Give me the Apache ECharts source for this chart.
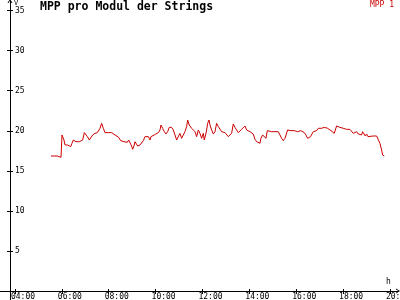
<!DOCTYPE html>
<html>
<head>
<meta charset="utf-8">
<script src="https://cdn.jsdelivr.net/npm/echarts@6/dist/echarts.min.js"></script>
<style>html,body{margin:0;padding:0;background:#fff}#c{width:400px;height:300px}</style>
</head>
<body>
<div id="c"></div>
<script>
// time in minutes since midnight
var times = [332.2,348.4,350.9,357.8,360.3,363.7,365.4,368.0,370.5,374.0,379.1,382.5,385.9,389.3,391.9,396.1,399.6,404.7,409.8,413.2,417.5,421.7,425.2,430.3,433.7,438.8,444.8,450.8,454.2,457.6,461.8,466.1,470.4,478.9,483.2,487.4,491.7,496.0,500.2,505.4,510.5,515.6,519.0,521.6,524.1,527.5,531.0,534.4,538.6,541.2,544.6,547.2,551.4,554.0,560.0,564.2,568.5,572.8,577.0,581.3,585.6,588.1,592.4,596.6,600.9,606.9,611.2,613.7,618.0,622.2,626.5,630.8,635.0,641.0,645.3,649.5,653.8,658.1,662.3,666.6,670.9,675.1,679.4,682.0,686.2,692.2,696.5,700.7,705.0,709.3,713.5,717.8,722.1,724.6,728.0,730.6,733.2,736.6,739.1,743.4,747.7,751.9,756.2,760.5,764.7,769.0,773.2,777.5,781.8,786.0,790.3,794.6,798.8,803.1,807.4,811.6,815.9,820.2,824.4,828.7,833.0,837.2,841.5,845.8,850.0,854.3,858.6,862.8,867.1,869.6,873.9,878.2,882.4,885.9,891.0,896.9,905.5,914.0,918.3,922.5,926.8,931.1,935.3,937.9,942.2,946.4,950.7,955.0,959.2,963.5,967.8,972.0,976.3,980.6,984.8,989.1,992.5,996.8,1000.2,1003.6,1007.9,1012.1,1016.4,1020.7,1024.9,1029.2,1031.8,1036.0,1040.3,1044.5,1048.8,1053.1,1057.3,1060.7,1063.3,1067.6,1071.8,1076.1,1080.4,1084.6,1088.9,1093.2,1097.4,1101.7,1106.0,1110.2,1114.5,1118.8,1123.0,1127.3,1129.9,1133.3,1136.7,1140.1,1143.5,1148.6,1157.2,1165.7,1170.0,1174.2,1178.5,1181.1,1185.3];
var mpp1 = [16.85,16.85,16.69,16.69,19.48,19.48,18.85,18.23,18.44,18.23,18.10,18.02,18.44,18.85,19.06,18.64,18.44,18.64,18.52,18.85,19.77,19.60,19.27,18.85,18.94,19.48,19.68,19.77,19.89,20.31,20.93,20.31,19.77,19.77,19.97,19.77,19.68,19.48,19.35,19.18,18.77,18.73,18.64,18.85,18.44,18.56,18.85,19.06,18.10,17.69,18.10,18.64,18.44,18.10,18.23,18.44,18.77,19.27,19.35,19.27,18.85,19.27,19.06,19.48,19.60,19.77,20.10,20.72,20.31,19.89,19.60,19.89,20.43,20.43,20.10,19.48,18.85,18.94,19.68,19.06,19.27,19.89,20.52,21.35,20.72,20.31,20.10,19.89,19.27,20.10,19.68,19.06,19.68,18.85,19.48,20.10,20.93,21.35,20.72,20.10,19.60,19.89,20.93,20.52,20.31,19.89,19.68,19.77,19.60,19.27,19.48,19.68,20.85,20.43,20.10,19.77,19.60,20.18,20.31,20.60,20.10,19.89,19.89,19.68,19.60,18.94,18.64,18.77,18.44,19.06,19.48,19.68,19.06,20.02,19.89,19.89,19.89,19.89,19.48,19.06,18.77,19.06,19.18,20.10,19.89,20.02,20.18,20.02,19.89,19.89,20.10,20.02,20.02,19.77,19.48,19.06,18.94,19.27,19.60,19.89,19.68,20.02,20.31,20.18,20.31,20.18,20.43,20.43,20.31,20.10,20.02,19.89,19.68,19.48,20.60,20.60,20.43,20.31,20.31,20.27,20.18,20.18,20.18,20.10,19.68,19.77,19.89,19.60,19.77,19.48,19.89,19.68,19.35,19.60,19.27,19.35,19.35,19.35,19.27,18.44,17.60,16.98,16.85];
var hourTicks = [240,360,480,600,720,840,960,1080,1200];
var yTicks = [5,10,15,20,25,30,35];
var seriesName = 'MPP 1';
var titleText = 'MPP pro Modul der Strings';

var MONO = '"DejaVu Sans Mono", monospace';
var RED = '#cc0000';
var chev = 'path://M0,8 L5,0 L10,8 L8,8 L5,3.2 L2,8 Z';
var labelVals = hourTicks.map(function(v){return v + 20.5;});
function fmtH(v){var h=Math.floor(v/60);return (h<10?'0':'')+h+':00';}

var data = times.map(function(t,i){return [t, mpp1[i]];});
var XMIN = 201.6, XMAX = 1220.5, YMIN = -1.12, YMAX = 36.2;

var chart = echarts.init(document.getElementById('c'));
chart.setOption({
  animation: false,
  backgroundColor: '#fff',
  title: {text: titleText, left: 40, top: 1, padding: 0,
    textStyle: {fontFamily: MONO, fontSize: 11.5, fontWeight: 'bold', color: '#000'}},
  legend: {data: [seriesName], right: 6, top: 1, padding: 0, itemWidth: 0, itemHeight: 0, itemGap: 0,
    textStyle: {fontFamily: MONO, fontSize: 8, color: RED}},
  grid: {left: 0, right: 2, top: 1, bottom: 0, containLabel: false, outerBoundsMode: 'none'},
  xAxis: [{
    type: 'value', min: XMIN, max: XMAX, position: 'bottom', offset: -9,
    splitLine: {show: false},
    name: 'h', nameLocation: 'end', nameGap: -12,
    nameTextStyle: {fontFamily: MONO, fontSize: 8, color: '#000', align: 'left', verticalAlign: 'bottom', padding: [0,0,5,0]},
    axisLine: {show: true, onZero: false, lineStyle: {color: '#000', width: 1}, symbol: ['none', chev], symbolSize: [6, 4]},
    axisTick: {show: true, length: 3, customValues: hourTicks, lineStyle: {color: '#000'}},
    axisLabel: {show: true, customValues: labelVals, formatter: fmtH, margin: 2, hideOverlap: false,
      fontFamily: MONO, fontSize: 8, color: '#000'}
  }, {
    type: 'value', min: XMIN, max: XMAX, position: 'bottom', offset: -9,
    splitLine: {show: false},
    axisLine: {show: false, onZero: false},
    axisTick: {show: true, inside: true, length: 2, customValues: hourTicks, lineStyle: {color: '#000'}},
    axisLabel: {show: false}
  }],
  yAxis: [{
    type: 'value', min: YMIN, max: YMAX, position: 'left', offset: -10,
    splitLine: {show: false},
    name: 'V', nameLocation: 'end', nameGap: -1,
    nameTextStyle: {fontFamily: MONO, fontSize: 7, color: '#000', align: 'left', verticalAlign: 'top', padding: [0,0,0,4]},
    axisLine: {show: true, onZero: false, lineStyle: {color: '#000', width: 1}, symbol: ['none', chev], symbolSize: [5, 4]},
    axisTick: {show: true, length: 3, customValues: yTicks, lineStyle: {color: '#000'}},
    axisLabel: {show: true, inside: true, margin: 5, customValues: yTicks,
      fontFamily: MONO, fontSize: 8, color: '#000'}
  }, {
    type: 'value', min: YMIN, max: YMAX, position: 'left', offset: -10,
    splitLine: {show: false},
    axisLine: {show: false, onZero: false},
    axisTick: {show: true, inside: true, length: 3, customValues: yTicks, lineStyle: {color: '#000'}},
    axisLabel: {show: false}
  }],
  series: [{
    name: seriesName, type: 'line', xAxisIndex: 0, yAxisIndex: 0,
    data: data, showSymbol: false, symbol: 'none',
    lineStyle: {color: RED, width: 1}, itemStyle: {color: RED}
  }]
});
</script>
</body>
</html>
